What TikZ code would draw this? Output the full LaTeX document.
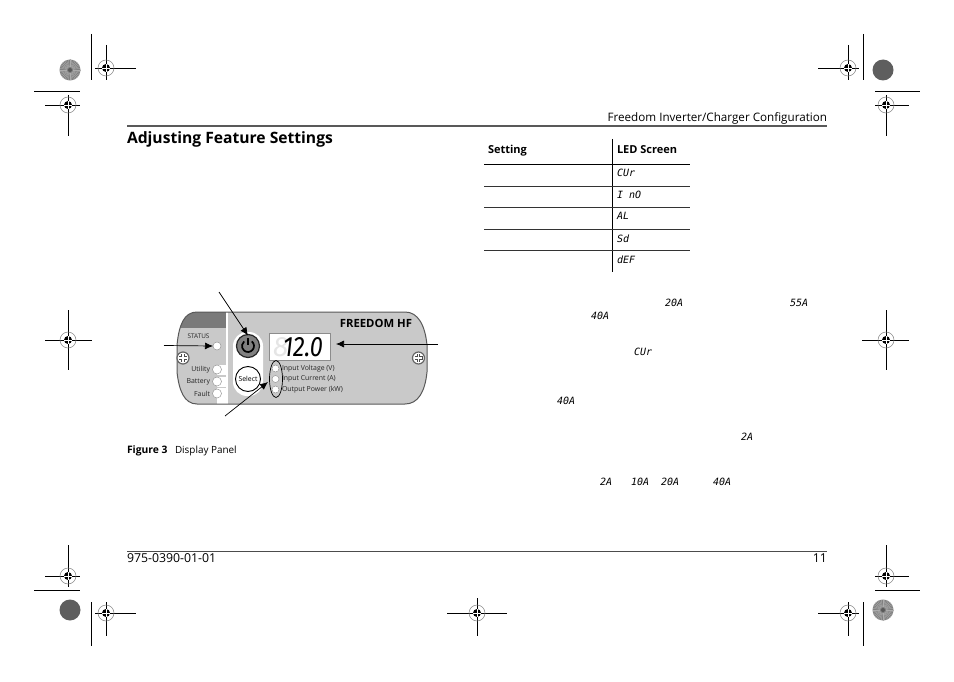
\documentclass[tikz,border=0pt]{standalone}
\usepackage{fontspec}
\setmainfont{Open Sans}
\newfontfamily\ledfont{DejaVu Sans Mono}
\newfontfamily\readfont{Fira Sans}
\usetikzlibrary{shapes,arrows.meta,calc,positioning,backgrounds}

\definecolor{rosemid}{gray}{.5}
\definecolor{rosedark}{gray}{.37}

\newcommand{\targetmark}[6]{%
  \draw[cropline] (#3,#2) -- (#4,#2) (#1,#5) -- (#1,#6);
  \draw[gray,line width=.5pt] (#1,#2) circle (8);
  \fill (#1,#2) circle (4);
  \draw[white,line width=.6pt] (#1-4,#2) -- (#1+4,#2) (#1,#2-4) -- (#1,#2+4);
}
\newcommand{\rosette}[3]{%
  \fill[#3] (#1,#2) circle (10.5);
  \foreach \a in {0,10,...,350}
    \draw[white!35!#3,line width=.4pt] (#1,#2) ++(\a:3) -- ++(\a:7.5);
  \fill[#3!70!black] (#1,#2) circle (2);
}
\newcommand{\darkdisc}[2]{%
  \fill[rosedark] (#1,#2) circle (10.5);
}
\newcommand{\screwmark}[2]{%
  \draw[black!60,fill=white,line width=1.2pt] (#1,#2) circle (6);
  \draw[black!70,line width=3.4pt] (#1-4,#2) -- (#1+4,#2) (#1,#2-4) -- (#1,#2+4);
  \draw[white,line width=1.8pt] (#1-3.6,#2) -- (#1+3.6,#2) (#1,#2-3.6) -- (#1,#2+3.6);
}

\begin{document}
\begin{tikzpicture}[x=1pt,y=-1pt,
  every node/.style={inner sep=0pt,outer sep=0pt},
  cropline/.style={line width=.8pt},
  tablerule/.style={line width=.8pt,black!80},
  bodytext/.style={font=\fontsize{11.5}{12}\selectfont,anchor=base west},
  led/.style={font=\ledfont\itshape\fontsize{10}{10}\selectfont,anchor=base west},
  paneltext/.style={font=\fontsize{6.9}{7}\selectfont,text=black!85},
  panelled/.style={circle,draw=gray!80,fill=white,line width=.5pt},
  callout/.style={-{Latex[length=8pt,width=7pt]},line width=.7pt}]

  \useasboundingbox (0,0) rectangle (954,682);

  \draw[cropline] (91.5,34) -- (91.5,80) (34,91.5) -- (80,91.5);
  \draw[cropline] (863,34) -- (863,80) (875,91.5) -- (920,91.5);
  \draw[cropline] (91.5,602) -- (91.5,646) (34,590) -- (80,590);
  \draw[cropline] (863,602) -- (863,646) (875,590) -- (920,590);

  \targetmark{106}{68}{95}{136}{45}{80}
  \targetmark{68}{105}{45}{80}{95}{136}
  \targetmark{848}{68}{818}{859}{45}{80}
  \targetmark{886}{105}{875}{909}{95}{136}
  \targetmark{68}{340}{45}{92}{310}{370}
  \targetmark{886}{340}{862}{909}{310}{370}
  \targetmark{68}{576}{45}{80}{545}{587}
  \targetmark{886}{576}{875}{909}{545}{587}
  \targetmark{106}{613}{95}{136}{602}{636}
  \targetmark{477}{613}{447}{507}{598}{636}
  \targetmark{848}{613}{818}{859}{602}{636}

  \rosette{70}{70}{rosemid}
  \darkdisc{883}{70}
  \darkdisc{70}{610}
  \rosette{883}{610}{rosemid}

  \node (Header) [anchor=base east,font=\fontsize{11.65}{12}\selectfont] at (827,122) {Freedom Inverter/Charger Configuration};
  \draw[line width=2pt,black!65] (127,126.5) -- (827,126.5);
  \node (Title) [anchor=base west,font=\bfseries\fontsize{15.65}{18}\selectfont] at (127,143.5) {Adjusting Feature Settings};

  \node (Setting) [bodytext,font=\bfseries\fontsize{11}{12}\selectfont] at (488,153.5) {Setting};
  \node (Screen) [bodytext,font=\bfseries\fontsize{11}{12}\selectfont] at (617,153.5) {LED Screen};
  \node (Cur) [led] at (617,177) {CUr};
  \node (Ino) [led] at (617,199) {I nO};
  \node (Al) [led] at (617,220) {AL};
  \node (Sd) [led] at (617,242) {Sd};
  \node (Def) [led] at (617,263) {dEF};

  \draw[line width=1pt] (612.5,139) -- (612.5,272);
  \draw[line width=1pt] (484,164.5) -- (690,164.5);
  \foreach \y in {186,207.5,229,250}
    \draw[tablerule] (484,\y) -- (690,\y);

  \node (LedA) [led] at (665,306) {20A};
  \node (LedB) [led] at (790,306) {55A};
  \node (LedC) [led] at (591,319) {40A};
  \node (LedD) [led] at (634,355) {CUr};
  \node (LedE) [led] at (557,404) {40A};
  \node (LedF) [led] at (741,440) {2A};
  \node (LedG) [led] at (600,485) {2A};
  \node (LedH) [led] at (631,485) {10A};
  \node (LedI) [led] at (661,485) {20A};
  \node (LedJ) [led] at (713,485) {40A};

  \def\panelpath{(195,312) -- (405,312) .. controls (418,312) and (425,325) .. (427,345) -- (427,372) .. controls (425,392) and (418,404) .. (405,404) -- (197,404) .. controls (184,404) and (179,390) .. (177,372) -- (177,345) .. controls (179,325) and (184,312) .. (197,312) -- cycle}
  \fill[black!21] \panelpath;
  \begin{scope}
    \clip \panelpath;
    \fill[black!52] (170,305) rectangle (226,328);
    \fill[white] (226.2,305) rectangle (228.2,410);
    \fill[white] (217,365) rectangle (227,375);
    \fill[white] (217,376.5) rectangle (227,386.5);
    \fill[white] (217,388) rectangle (227,404);
  \end{scope}
  \draw[black!65,line width=1pt] \panelpath;
  \fill[white,rounded corners=14pt] (233,332) rectangle (263,396);

  \screwmark{183}{358}
  \screwmark{418.5}{358}

  \node (Status) [paneltext,font=\fontsize{6.4}{6}\selectfont] at (198.5,336) {STATUS};
  \node (StatusLed) [panelled,minimum size=8pt] at (217,346) {};
  \node (UtilityLed) [panelled,minimum size=9pt] at (217,369.5) {};
  \node (BatteryLed) [panelled,minimum size=9pt,below = 3pt of UtilityLed] {};
  \node (FaultLed) [panelled,minimum size=9pt,below = 3pt of BatteryLed] {};
  \node (Utility) [paneltext,left = 2.5pt of UtilityLed] {Utility};
  \node (Battery) [paneltext,left = 2.5pt of BatteryLed] {Battery};
  \node (Fault) [paneltext,left = 2.5pt of FaultLed] {Fault};

  \node (Power) [circle,draw=black!85,fill=black!50,line width=1.2pt,minimum size=23pt] at (248,346) {};
  \draw[black,line width=1.7pt] (Power.center) ++(-50:6) arc (-50:230:6);
  \draw[black,line width=1.7pt] (Power.center) ++(0,-8) -- ++(0,7);
  \node (Select) [circle,draw=black,fill=white,line width=.9pt,minimum size=25pt,font=\fontsize{6.9}{7}\selectfont] at (248,379) {Select};

  \node (Screen12) [draw=black!45,fill=white,line width=.6pt,minimum width=61pt,minimum height=27pt] at (299.5,346.5) {};
  \node (Ghost) [font=\readfont\itshape\fontsize{28}{28}\selectfont,text=black!10,anchor=base west] at (273,356.5) {8};
  \node (Reading) [font=\readfont\itshape\fontsize{28}{28}\selectfont,anchor=base west] at (283,356.5) {\scalebox{.84}[1]{12.0}};

  \node (VoltLed) [panelled,minimum size=7pt] at (275.5,368.5) {};
  \node (CurrentLed) [panelled,minimum size=7pt,below = 3.5pt of VoltLed] {};
  \node (PowerLed) [panelled,minimum size=7pt,below = 3.5pt of CurrentLed] {};
  \node (Volt) [paneltext,right = 3pt of VoltLed] {Input Voltage (V)};
  \node (Current) [paneltext,right = 3pt of CurrentLed] {Input Current (A)};
  \node (Output) [paneltext,right = 3pt of PowerLed] {Output Power (kW)};
  \node (Group) [ellipse,draw,line width=.7pt,minimum width=13pt,minimum height=37pt] at (276,379) {};

  \node (Brand) [anchor=base east,font=\bfseries\fontsize{11.3}{12}\selectfont] at (412,327.5) {FREEDOM HF};

  \coordinate (PowerFrom) at (219,292);
  \coordinate (StatusFrom) at (164,345.5);
  \coordinate (ScreenFrom) at (438,344);
  \coordinate (GroupFrom) at (225,416);
  \coordinate (GroupTo) at (268,382);
  \draw[callout] (PowerFrom) -- ($(Power.north)+(0,1)$);
  \draw[callout] (StatusFrom) -- (StatusLed.west);
  \draw[callout] (ScreenFrom) -- ($(Screen12.east)+(6,-2.5)$);
  \draw[callout] (GroupFrom) -- (GroupTo);

  \node (Figure) [anchor=base west,font=\bfseries\fontsize{10.3}{10}\selectfont] at (127,453) {Figure 3};
  \node (Caption) [anchor=base west,font=\fontsize{9.9}{10}\selectfont] at (175,453) {Display Panel};

  \draw[line width=.7pt,black!70] (127,551.5) -- (827,551.5);
  \node (Part) [anchor=base west,font=\fontsize{12.3}{12}\selectfont] at (127,562) {975-0390-01-01};
  \node (Page) [anchor=base east,font=\fontsize{12.3}{12}\selectfont] at (827,562) {11};
\end{tikzpicture}
\end{document}
